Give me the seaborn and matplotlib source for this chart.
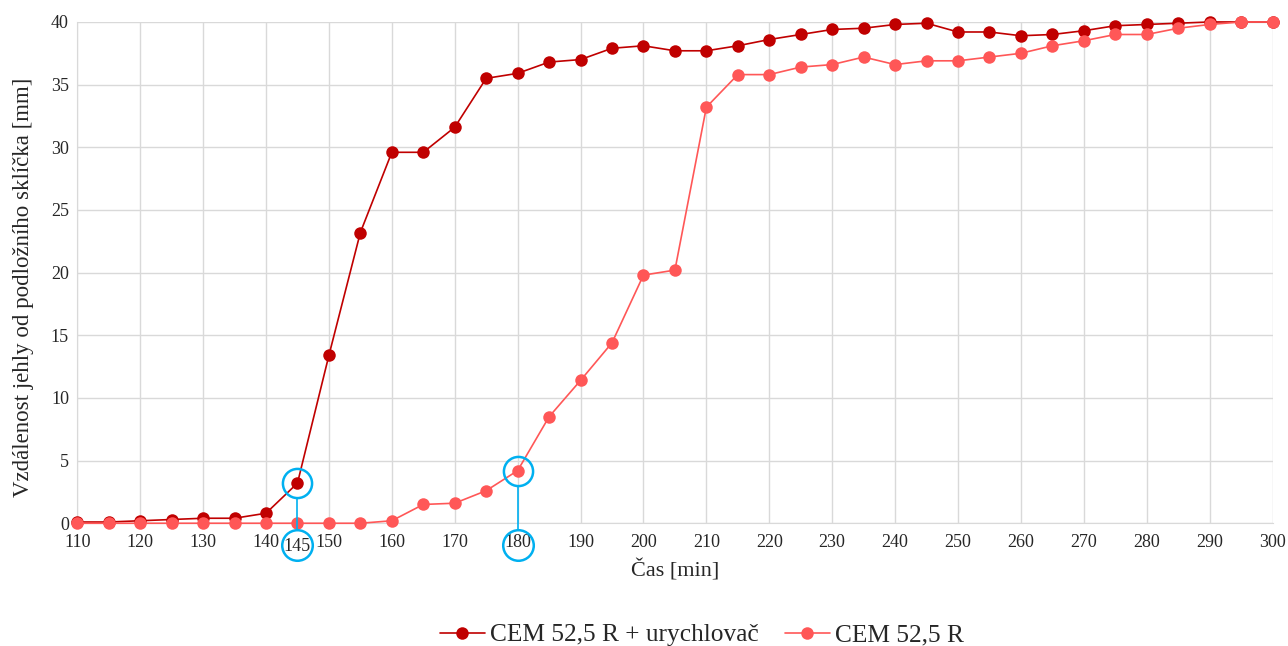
import numpy as np
import pandas as pd
import matplotlib
matplotlib.use("Agg")
import matplotlib.pyplot as plt
import matplotlib.transforms as mtransforms
import seaborn as sns

# data
cas = list(range(110, 305, 5))
s_urychlovacem = [0.1, 0.1, 0.2, 0.3, 0.4, 0.4, 0.8, 3.2, 13.4, 23.2,
                  29.6, 29.6, 31.6, 35.5, 35.9, 36.8, 37.0, 37.9, 38.1, 37.7,
                  37.7, 38.1, 38.6, 39.0, 39.4, 39.5, 39.8, 39.9, 39.2, 39.2,
                  38.9, 39.0, 39.3, 39.7, 39.8, 39.9, 40.0, 40.0, 40.0]
bez_urychlovace = [0.0, 0.0, 0.0, 0.0, 0.0, 0.0, 0.0, 0.0, 0.0, 0.0,
                   0.2, 1.5, 1.6, 2.6, 4.2, 8.5, 11.4, 14.4, 19.8, 20.2,
                   33.2, 35.8, 35.8, 36.4, 36.6, 37.2, 36.6, 36.9, 36.9, 37.2,
                   37.5, 38.1, 38.5, 39.0, 39.0, 39.5, 39.8, 40.0, 40.0]
nazvy = ["CEM 52,5 R + urychlovač", "CEM 52,5 R"]
barvy = ["#C00000", "#FF5757"]
zvyraznene = [145, 180]  # konce tuhnutí

df = pd.DataFrame({"Čas": cas, nazvy[0]: s_urychlovacem, nazvy[1]: bez_urychlovace})
df_long = df.melt(id_vars="Čas", var_name="Vzorek", value_name="Hodnota")

sns.set_style("white")
plt.rcParams["font.family"] = ["Liberation Serif", "DejaVu Serif"]

fig, ax = plt.subplots(figsize=(12.88, 6.46), dpi=100)
fig.subplots_adjust(left=0.06, right=0.988, top=0.966, bottom=0.19)

sns.lineplot(data=df_long, x="Čas", y="Hodnota", hue="Vzorek", hue_order=nazvy,
             palette=dict(zip(nazvy, barvy)), marker="o", markersize=9,
             markeredgewidth=0, linewidth=1.2, ax=ax, legend=False, zorder=3,
             clip_on=False)

ax.set_xlim(110, 300)
ax.set_ylim(0, 40)
ax.set_xticks(range(110, 301, 10))
ax.set_yticks(range(0, 41, 5))
ax.grid(True, color="#D9D9D9", linewidth=1)
for side in ["top", "right"]:
    ax.spines[side].set_visible(False)
for side in ["left", "bottom"]:
    ax.spines[side].set_color("#D9D9D9")
ax.tick_params(axis="both", length=0, labelsize=13, pad=6)
ax.tick_params(axis="x", pad=8)
ax.set_xlabel("Čas [min]", fontsize=16, labelpad=6)
ax.set_ylabel("Vzdálenost jehly od podložního sklíčka [mm]", fontsize=16.5)
ax.yaxis.set_label_coords(-0.036, 0.47)

# zvýraznění konců tuhnutí
modra = "#00B0F0"
trans = mtransforms.blended_transform_factory(ax.transData, ax.transAxes)
hodnoty = [s_urychlovacem[cas.index(zvyraznene[0])], bez_urychlovace[cas.index(zvyraznene[1])]]
for t, h in zip(zvyraznene, hodnoty):
    ax.plot([t], [h], marker="o", markersize=21, markerfacecolor="none",
            markeredgecolor=modra, markeredgewidth=1.8, clip_on=False, zorder=5)
    ax.plot([t], [-0.044], marker="o", markersize=22, markerfacecolor="none",
            markeredgecolor=modra, markeredgewidth=1.8, transform=trans,
            clip_on=False, zorder=5)
    ax.plot([t, t], [h - 1.2, -1.76 + 1.2], color=modra, linewidth=1.2,
            clip_on=False, zorder=4)
ax.text(zvyraznene[0], -0.046, str(zvyraznene[0]), transform=trans,
        ha="center", va="center", fontsize=13)

handles = [plt.Line2D([], [], color=c, marker="o", markersize=9, markeredgewidth=0,
                      linewidth=1.2) for c in barvy]
fig.legend(handles, nazvy, loc="center", bbox_to_anchor=(0.545, 0.017), ncol=2,
           frameon=False, fontsize=18.3, handlelength=1.8, handletextpad=0.2,
           columnspacing=1.0)

fig.savefig("out.png", dpi=100)
